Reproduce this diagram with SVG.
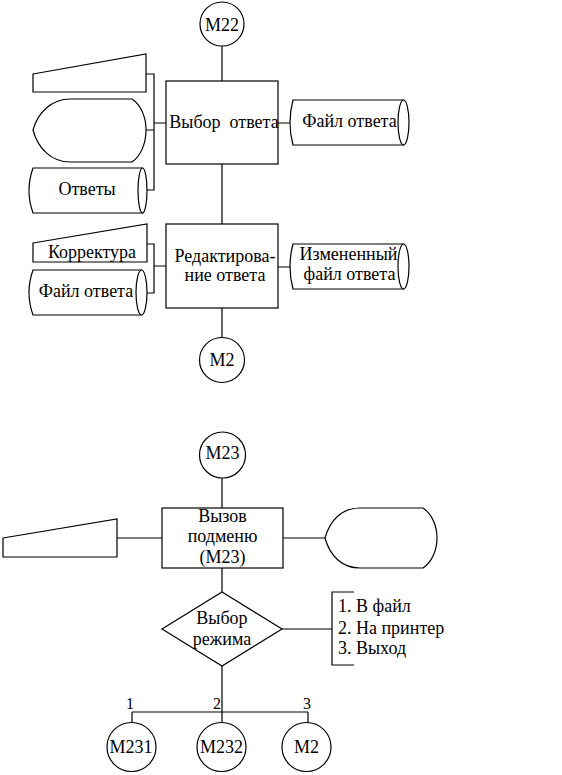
<svg xmlns="http://www.w3.org/2000/svg" width="562" height="775" viewBox="0 0 562 775">
<style>
.s{fill:#fff;stroke:#000;stroke-width:1.2}
.n{fill:none;stroke:#000;stroke-width:1.2}
text{font-family:'Liberation Serif','Times New Roman','DejaVu Serif',serif;font-size:18px;fill:#000;text-anchor:middle}
.l{text-anchor:start}
.sm{font-size:16px}
</style>
<rect width="562" height="775" fill="#fff"/>
<g id="connectors" class="n">
<path d="M222,46V81M222,164V224M222,308V338"/>
<path d="M146,74H154V190H147M146,130H154M154,123H166"/>
<path d="M147,244H154V293H147M154,266H166"/>
<path d="M278,123H290M278,267H290"/>
<path d="M222,478V508M117,538H162M283,538H325M222,568V592"/>
<path d="M282,629H332M354,592H332V665H354"/>
<path d="M222,666V712M132,712H308M132,712V723M222,712V723M308,712V723"/>
</g>
<g id="M22"><circle class="s" cx="222" cy="24" r="22"/><text x="222" y="31">М22</text></g>
<g id="box1"><rect class="s" x="166" y="81" width="112" height="83"/><text x="224" y="128" xml:space="preserve">Выбор  ответа</text></g>
<g id="input1"><polygon class="s" points="33,74 146,54 146,92 33,92"/></g>
<g id="display1"><path class="s" d="M33,130C38,112 52,99 70,99L132,99C141,105 146,117 146,130C146,143 141,156 132,162L70,162C52,162 38,149 33,130Z"/></g>
<g id="otvety"><path class="s" d="M33,168L142.5,168L142.5,213L33,213Q25,190.5 33,168Z"/><ellipse class="s" cx="142.5" cy="190.5" rx="4.5" ry="22.5"/><text x="87" y="195">Ответы</text></g>
<g id="file1"><path class="s" d="M293,100L403.5,100L403.5,145L293,145Q287,122.5 293,100Z"/><ellipse class="s" cx="403.5" cy="122.5" rx="5.5" ry="22.5"/><text x="349.5" y="127">Файл ответа</text></g>
<g id="box2"><rect class="s" x="166" y="224" width="112" height="84"/><text x="225" y="262">Редактирова-</text><text x="225" y="281">ние ответа</text></g>
<g id="input2"><polygon class="s" points="33,243 147,224 147,262 33,262"/><text x="92" y="258">Корректура</text></g>
<g id="file2"><path class="s" d="M33,270L141.5,270L141.5,315L33,315Q25,292.5 33,270Z"/><ellipse class="s" cx="141.5" cy="292.5" rx="5.5" ry="22.5"/><text x="86" y="297">Файл ответа</text></g>
<g id="file3"><path class="s" d="M293,244L403.5,244L403.5,289L293,289Q287,266.5 293,244Z"/><ellipse class="s" cx="403.5" cy="266.5" rx="5.5" ry="22.5"/><text x="348.5" y="260">Измененный</text><text x="349.5" y="280">файл ответа</text></g>
<g id="M2a"><circle class="s" cx="222" cy="360" r="22.5"/><text x="222" y="366">М2</text></g>
<g id="M23"><circle class="s" cx="222.5" cy="455" r="23"/><text x="222.5" y="459">М23</text></g>
<g id="box3"><rect class="s" x="162" y="508" width="121" height="60"/><text x="222.5" y="522">Вызов</text><text x="222.5" y="542">подменю</text><text x="222.5" y="563">(М23)</text></g>
<g id="input3"><polygon class="s" points="3,538 117,519 117,557 3,557"/></g>
<g id="display2"><path class="s" d="M325,538C330,520 342,508 360,508L423,508C432,514 437,526 437,538C437,550 432,562 423,568L360,568C342,568 330,556 325,538Z"/></g>
<g id="decision"><polygon class="s" points="162,629 222,592 282,629 222,666"/><text x="222" y="624">Выбор</text><text x="222" y="645">режима</text></g>
<g id="menu"><text class="l" x="338" y="612">1. В файл</text><text class="l" x="338" y="634">2. На принтер</text><text class="l" x="338" y="654">3. Выход</text></g>
<g id="labels"><text class="sm" x="130" y="709">1</text><text class="sm" x="217" y="709">2</text><text class="sm" x="307" y="709">3</text></g>
<g id="M231"><circle class="s" cx="131.5" cy="747" r="24.5"/><text x="131" y="753">М231</text></g>
<g id="M232"><circle class="s" cx="221.5" cy="747" r="24.5"/><text x="221.5" y="753">М232</text></g>
<g id="M2b"><circle class="s" cx="306.5" cy="747" r="24.5"/><text x="306.5" y="753">М2</text></g>
</svg>
